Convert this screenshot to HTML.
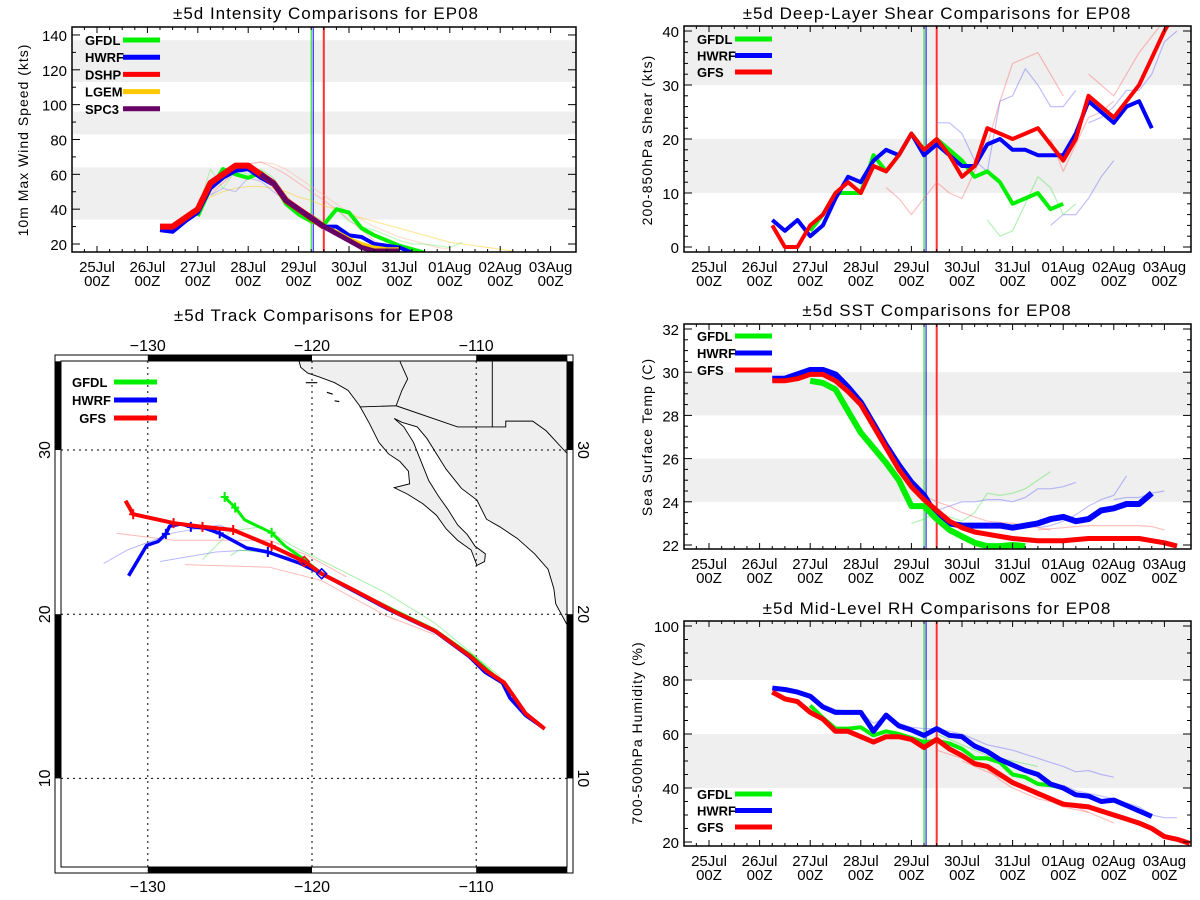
<!DOCTYPE html>
<html><head><meta charset="utf-8"><style>
html,body{margin:0;padding:0;background:#fff;}
svg{display:block;font-family:"Liberation Sans",sans-serif;}
</style></head><body>
<svg id="root" width="1200" height="900" viewBox="0 0 1200 900" xmlns="http://www.w3.org/2000/svg"></svg>
<script>
// ---------- shared data ----------
const dayLabels = ['25Jul','26Jul','27Jul','28Jul','29Jul','30Jul','31Jul','01Aug','02Aug','03Aug'];
const markTimes = [4.25, 4.29, 4.5];   // green, blue, red reference lines (days since 25Jul 00Z)
const markColors = ['#00e000','#0000ff','#ff3030'];

// ---------- intensity ----------
const intTicks = [20,40,60,80,100,120,140];
const intBands = [[34,64],[83,96],[113,137]];
const intDshpStart = 1.25;
const intDshp = [30,30,35,40,55,60,65,65,60,55,45,40,35,30];
const intSpc3Start = 3.25;
const intSpc3 = [60,55,45,40,35,30,26,22,18,16,16,16];
const intLgemStart = 4.25;
const intLgem = [34,30,27,23,20,18,17,17];
const intHwrfStart = 1.25;
const intHwrf = [28,27,33,38,52,58,62,63,58,54,45,40,35,30,30,25,24,20,19,18,15];
const intGfdlStart = 2.0;
const intGfdl = [36,52,63,60,58,61,55,43,37,33,31,40,38,29,25,22,19,17,15];
const intFaintOrange1Start = 2.0;
const intFaintOrange1 = [45,50,55,62,66,67,66,63,58,53,48,43,38,34,30,27,24,22,20,18,17];
const intFaintOrange2Start = 2.0;
const intFaintOrange2 = [42,47,50,52,53,53,52,50,47,45,42,40,37,35,33,31,29,27,25,23,21,20,19,18,17,16];
const intFaintRedStart = 2.25;
const intFaintRed = [48,55,62,66,67,64,60,55,50,45,40,34,28,22,18,16];
const intFaintBlueStart = 2.25;
const intFaintBlue = [48,52,50,58,56,50,45,40,33,28,26,22,20,18];
const intFaintGreenStart = 2.0;
const intFaintGreen = [40,63,52,62,60,63,58,48,40,37,33,40,33,30,28,25,22,20,20,19,18,21];

// ---------- shear ----------
const shrTicks = [0,10,20,30,40];
const shrBands = [[10,20],[30,41]];
const shrGfsStart = 1.25;
const shrGfs = [4,0,0,4,6,10,12,10,15,14,17,21,18,20,17,13,15,22,21,20,21,22,19,16,20,28,26,24,27,30,35,40,44];
const shrHwrfStart = 1.25;
const shrHwrf = [5,3,5,2,4,9,13,12,16,18,17,21,17,19,17,15,15,19,20,18,18,17,17,17,21,27,25,23,26,27,22];
const shrGfdlStart = 2.0;
const shrGfdl = [3,6,10,10,10,17,14,17,21,18,20,18,16,13,14,12,8,9,10,7,8];
const shrFaintRed1Start = 3.5;
const shrFaintRed1 = [11,9,6,9,12,10,9,14,19,27,34,35,36,32,28];
const shrFaintRed2Start = 6.75;
const shrFaintRed2 = [20,14,19,24,25,27];
const shrFaintRed3Start = 7.5;
const shrFaintRed3 = [32,30,28,32,36,39,42];
const shrFaintBlue1Start = 4.5;
const shrFaintBlue1 = [23,23,21,16,14,27,28,33,30,26,26,29];
const shrFaintBlue2Start = 6.75;
const shrFaintBlue2 = [4,6,6,9,13,16];
const shrFaintBlue3Start = 7.5;
const shrFaintBlue3 = [23,24,26,29,29,32,38,40];
const shrFaintGreenStart = 5.5;
const shrFaintGreen = [5,2,3,8,13,11,6,8];

// ---------- SST ----------
const sstTicks = [22,24,26,28,30,32];
const sstBands = [[24,26],[28,30]];
const sstHwrfStart = 1.25;
const sstHwrf = [29.7,29.7,29.9,30.1,30.1,29.9,29.3,28.6,27.6,26.6,25.7,24.9,24.3,23.3,23.0,22.9,22.9,22.9,22.9,22.8,22.9,23.0,23.2,23.3,23.1,23.2,23.6,23.7,23.9,23.9,24.4];
const sstGfsStart = 1.25;
const sstGfs = [29.6,29.6,29.7,29.9,29.9,29.6,29.1,28.5,27.5,26.5,25.5,24.7,24.1,23.6,23.1,22.8,22.6,22.5,22.4,22.3,22.25,22.2,22.2,22.2,22.25,22.3,22.3,22.3,22.3,22.3,22.2,22.1,21.95];
const sstGfdlStart = 2.0;
const sstGfdl = [29.6,29.5,29.2,28.2,27.2,26.5,25.8,25.0,23.8,23.8,23.2,22.7,22.4,22.1,21.95,21.95,22.0,21.95];
const sstFaintBlue1Start = 4.5;
const sstFaintBlue1 = [23.6,23.8,24.0,24.0,24.1,24.1,24.0,24.2,24.6,24.6,24.7,24.9];
const sstFaintBlue2Start = 6.5;
const sstFaintBlue2 = [22.8,22.9,23.1,23.4,23.8,24.1,24.3,25.2];
const sstFaintBlue3Start = 8.0;
const sstFaintBlue3 = [24.1,24.2,24.2,24.4,24.5];
const sstFaintGreenStart = 4.0;
const sstFaintGreen = [23.0,23.2,23.5,23.3,23.1,23.5,24.4,24.3,24.4,24.6,25.0,25.4];
const sstFaintRed1Start = 4.25;
const sstFaintRed1 = [24.3,24.0,23.8,23.5,23.3,23.1,23.05,23.0,22.9,22.8,22.7];
const sstFaintRed2Start = 6.5;
const sstFaintRed2 = [22.7,22.75,22.8,22.85,22.9,22.9,22.9,22.9,22.9,22.85,22.7];

// ---------- RH ----------
const rhTicks = [20,40,60,80,100];
const rhBands = [[40,60],[80,102]];
const rhHwrfStart = 1.25;
const rhHwrf = [77,76.5,75.5,74,70,68,68,68,61,67,63,61.5,59.5,62,59.5,59,55.5,53.5,50.5,48.5,46.5,45,41.5,40,37.5,37,35,35.5,33.5,31.5,29.5];
const rhGfsStart = 1.25;
const rhGfs = [75.5,73,72,68,65.5,61,61,59,57,59,59,58,55,58,54.5,52,49,48,45,42,40,38,36,34,33.5,33,31.5,30,28.5,27,25,22,21,19.5];
const rhGfdlStart = 2.0;
const rhGfdl = [70.5,66,62,62,62.5,59.5,61,60,58.5,57,57.5,56.5,54.5,51,51,49.5,45,44,41.5,41,40];
const rhFaintBlue1Start = 2.0;
const rhFaintBlue1 = [74,71,69,68.5,68,64,66,64,62.5,62,62,61,60,58,56,55,54,52.5,51,49.5,48,46,46.5,45,44];
const rhFaintBlue2Start = 7.0;
const rhFaintBlue2 = [41,39,38,37,36,34.5,33,30,29,29];
const rhFaintGreenStart = 4.5;
const rhFaintGreen = [60,58,56,54,52,51,50,49,48];
const rhFaintRed1Start = 4.5;
const rhFaintRed1 = [54,52.5,51,49,47,43,40,38,36,35,33,32,31,29,27];
const rhFaintRed2Start = 5.0;
const rhFaintRed2 = [50,48,46,44,42,39.5,37,36,35,33,31];

// ---------- track (lon, lat) ----------
const trkGfsLon = [-131.36,-130.89,-128.43,-126.67,-124.80,-122.46,-120.47,-119.41,-117.42,-115.08,-112.51,-110.40,-109.34,-108.29,-107.00,-105.83];
const trkGfsLat = [26.91,26.09,25.55,25.32,25.13,24.15,23.21,22.46,21.45,20.21,18.99,17.47,16.53,15.83,13.96,13.02];
const trkGfsMarks = [1,2,3,4,5];
const trkHwrfLon = [-131.17,-130.07,-129.37,-128.90,-128.67,-127.96,-127.38,-126.56,-125.62,-123.98,-122.69,-120.70,-119.41,-115.32,-112.51,-110.40,-109.46,-108.41,-107.94,-107.00,-105.83];
const trkHwrfLat = [22.34,24.19,24.43,24.89,25.36,25.50,25.32,25.25,24.92,24.03,23.79,23.09,22.46,20.28,18.95,17.40,16.46,15.83,14.89,13.84,13.02];
const trkHwrfMarks = [3,6,8,10];
const trkGfdlLon = [-125.32,-124.68,-124.10,-122.46,-121.64,-120.47,-119.41,-115.08,-112.51,-110.28,-108.52];
const trkGfdlLat = [27.14,26.49,25.74,24.96,24.15,23.33,22.46,20.28,19.04,17.47,15.95];
const trkGfdlMarks = [0,1,3];
const trkFaint = [
  {c:'#ff6060', lon:[-131.90,-128.43,-122.58,-120.23,-117.89], lat:[24.92,24.50,24.50,23.56,22.27]},
  {c:'#ff6060', lon:[-127.73,-122.58,-119.41,-115.55,-112.51], lat:[23.02,22.86,22.04,19.93,18.76]},
  {c:'#6060ff', lon:[-132.69,-131.24,-128.43,-125.62,-122.58], lat:[23.09,23.91,24.96,25.43,24.15]},
  {c:'#6060ff', lon:[-129.25,-125.85,-123.75,-121.17], lat:[23.21,23.79,23.91,23.44]},
  {c:'#40e040', lon:[-126.67,-124.92,-123.04,-121.17,-119.06,-115.55,-112.51,-108.52], lat:[23.33,25.08,25.32,24.15,23.09,21.33,19.46,16.18]},
  {c:'#40e040', lon:[-124.96,-124.45,-122.11,-120.23], lat:[23.56,23.91,23.68,22.97]}
];
const mapLonTicks = [-130,-120,-110];
const mapLatTicks = [30,20,10];

// ---------- helpers ----------
const NS = 'http://www.w3.org/2000/svg';
const root = document.getElementById('root');
function mk(tag, attrs, parent){
  const e = document.createElementNS(NS, tag);
  for (const k in attrs) e.setAttribute(k, attrs[k]);
  (parent||root).appendChild(e);
  return e;
}
function txt(s, x, y, size, anchor, parent, extra){
  const t = mk('text', Object.assign({x:x, y:y, 'font-size':size, 'text-anchor':anchor||'middle', fill:'#000'}, extra||{}), parent);
  t.textContent = s;
  return t;
}

function timeChart(cfg){
  const g = mk('g', {});
  
  
  const X = d => cfg.x0 + d*cfg.dpx;
  const Y = v => cfg.yAt0 - (v - cfg.v0)*cfg.ypu;
  const L=cfg.left, R=cfg.right, T=cfg.top, B=cfg.bottom;
  const clipId = cfg.name + '-clip';
  const cp = mk('clipPath', {id:clipId}, g);
  mk('rect', {x:L, y:T, width:R-L, height:B-T}, cp);
  cfg.bands.forEach(b => {
    const r = mk('rect', {x:L, y:Y(Math.min(b[1], cfg.vmax)), width:R-L, height:Y(b[0])-Y(Math.min(b[1], cfg.vmax)), fill:'#efefef'}, g);
    
    
  });
  const plot = mk('g', {'clip-path':'url(#'+clipId+')'}, g);
  markTimes.forEach((m,i) => {
    const w = i===2 ? 2 : 1;
    const l = mk('line', {x1:X(m), x2:X(m), y1:T, y2:B, stroke:markColors[i], 'stroke-width':w}, plot);
    
    
  });
  cfg.faint.forEach(s => drawSeries(plot, s.start, s.vals, s.c, 1.2, 0.4, X, Y, 'faint-series'));
  cfg.series.forEach(s => drawSeries(plot, s.start, s.vals, s.c, s.w, 1, X, Y, s.n));
  mk('rect', {x:L, y:T, width:R-L, height:B-T, fill:'none', stroke:'#000', 'stroke-width':1.5}, g);
  for (let q=-1; q<=36; q++){
    const d = q/4;
    const x = X(d);
    if (x<L || x>R) continue;
    const major = q%4===0;
    const len = major?6:3;
    mk('line', {x1:x,x2:x,y1:B,y2:B-len,stroke:'#000'}, g);
    mk('line', {x1:x,x2:x,y1:T,y2:T+len,stroke:'#000'}, g);
  }
  dayLabels.forEach((lab,i) => {
    const a = txt(lab, X(i), B+20, 15, 'middle', g);
    
    
    txt('00Z', X(i), B+34, 15, 'middle', g);
  });
  for (let v = cfg.ticks[0]; v <= cfg.vmax; v += cfg.minor){
    const y = Y(v);
    if (y<T || y>B) continue;
    const major = cfg.ticks.some(t => Math.abs(t-v)<1e-6);
    const len = major?8:4;
    mk('line', {x1:L,x2:L+len,y1:y,y2:y,stroke:'#000'}, g);
    mk('line', {x1:R,x2:R-len,y1:y,y2:y,stroke:'#000'}, g);
  }
  cfg.ticks.forEach(v => {
    const t = txt(String(v), L-5, Y(v)+6, 15, 'end', g);
    
    
  });
  const tt = txt(cfg.title, cfg.titleX, cfg.titleY, 17, 'middle', g, {'letter-spacing':'1'});
  
  
  const yt = txt(cfg.ytitle, 0, 0, 14, 'middle', g, {transform:'translate('+cfg.ytX+','+cfg.ytY+') rotate(-90)', 'letter-spacing':'1'});
  
  
  cfg.legend.forEach((it,i) => {
    const y = cfg.legY + i*cfg.legDy;
    const lt = txt(it.n, cfg.legTextX, y+5, 13, cfg.legAnchor[i]||'start', g, {'font-weight':'bold'});
    
    
    const ll = mk('line', {x1:cfg.legLineX, x2:cfg.legLineX+37, y1:y, y2:y, stroke:it.c, 'stroke-width':5}, g);
    
    
  });
}
function drawSeries(parent, start, vals, color, w, op, X, Y, name){
  const pts = vals.map((v,i) => X(start + i*0.25).toFixed(1)+','+Y(v).toFixed(1)).join(' ');
  const p = mk('polyline', {points:pts, fill:'none', stroke:color, 'stroke-width':w, 'stroke-opacity':op, 'stroke-linejoin':'round'}, parent);
  
  
}

const G='#00f000', B='#0000ff', Rd='#ff0000', O='#ffc800', P='#660066';

timeChart({name:'intensity-chart', left:72, right:576, top:27, bottom:252, x0:97, dpx:50.4,
  v0:20, yAt0:244, ypu:1.742, vmax:144, ticks:intTicks, minor:10, bands:intBands,
  title:'\u00b15d Intensity Comparisons for EP08', titleX:326, titleY:19,
  ytitle:'10m Max Wind Speed (kts)', ytX:28, ytY:140,
  faint:[{start:intFaintOrange1Start, vals:intFaintOrange1, c:'#ffb090'},{start:intFaintOrange2Start, vals:intFaintOrange2, c:O},
         {start:intFaintRedStart, vals:intFaintRed, c:'#ff8080'},{start:intFaintBlueStart, vals:intFaintBlue, c:'#8080ff'},
         {start:intFaintGreenStart, vals:intFaintGreen, c:'#60f060'}],
  series:[{start:intGfdlStart, vals:intGfdl, c:G, w:4, n:'gfdl-intensity'},
          {start:intHwrfStart, vals:intHwrf, c:B, w:4, n:'hwrf-intensity'},
          {start:intLgemStart, vals:intLgem, c:O, w:4, n:'lgem-intensity'},
          {start:intDshpStart, vals:intDshp, c:Rd, w:6, n:'dshp-intensity'},
          {start:intSpc3Start, vals:intSpc3, c:P, w:5, n:'spc3-intensity'}],
  legend:[{n:'GFDL',c:G},{n:'HWRF',c:B},{n:'DSHP',c:Rd},{n:'LGEM',c:O},{n:'SPC3',c:P}],
  legY:40, legDy:17.2, legTextX:85, legLineX:123, legAnchor:[]});

timeChart({name:'shear-chart', left:684, right:1191, top:26, bottom:252, x0:709, dpx:50.6,
  v0:0, yAt0:247, ypu:5.4, vmax:40.9, ticks:shrTicks, minor:2, bands:shrBands,
  title:'\u00b15d Deep-Layer Shear Comparisons for EP08', titleX:937, titleY:19,
  ytitle:'200-850hPa Shear (kts)', ytX:652, ytY:140,
  faint:[{start:shrFaintRed1Start, vals:shrFaintRed1, c:'#ff6060'},{start:shrFaintRed2Start, vals:shrFaintRed2, c:'#ff6060'},{start:shrFaintRed3Start, vals:shrFaintRed3, c:'#ff6060'},
         {start:shrFaintBlue1Start, vals:shrFaintBlue1, c:'#6060ff'},{start:shrFaintBlue2Start, vals:shrFaintBlue2, c:'#6060ff'},{start:shrFaintBlue3Start, vals:shrFaintBlue3, c:'#6060ff'},
         {start:shrFaintGreenStart, vals:shrFaintGreen, c:'#40e040'}],
  series:[{start:shrGfdlStart, vals:shrGfdl, c:G, w:4, n:'gfdl-shear'},
          {start:shrHwrfStart, vals:shrHwrf, c:B, w:4, n:'hwrf-shear'},
          {start:shrGfsStart, vals:shrGfs, c:Rd, w:4, n:'gfs-shear'}],
  legend:[{n:'GFDL',c:G},{n:'HWRF',c:B},{n:'GFS',c:Rd}],
  legY:39, legDy:16.5, legTextX:697, legLineX:735, legAnchor:['start','start','start']});

timeChart({name:'sst-chart', left:684, right:1191, top:324, bottom:549, x0:709, dpx:50.6,
  v0:22, yAt0:545, ypu:21.6, vmax:32.2, ticks:sstTicks, minor:0.5, bands:sstBands,
  title:'\u00b15d SST Comparisons for EP08', titleX:937, titleY:316,
  ytitle:'Sea Surface Temp (C)', ytX:652, ytY:437,
  faint:[{start:sstFaintBlue1Start, vals:sstFaintBlue1, c:'#6060ff'},{start:sstFaintBlue2Start, vals:sstFaintBlue2, c:'#6060ff'},{start:sstFaintBlue3Start, vals:sstFaintBlue3, c:'#6060ff'},
         {start:sstFaintGreenStart, vals:sstFaintGreen, c:'#40e040'},{start:sstFaintRed1Start, vals:sstFaintRed1, c:'#ff6060'},{start:sstFaintRed2Start, vals:sstFaintRed2, c:'#ff6060'}],
  series:[{start:sstHwrfStart, vals:sstHwrf, c:B, w:6, n:'hwrf-sst'},
          {start:sstGfdlStart, vals:sstGfdl, c:G, w:6, n:'gfdl-sst'},
          {start:sstGfsStart, vals:sstGfs, c:Rd, w:5, n:'gfs-sst'}],
  legend:[{n:'GFDL',c:G},{n:'HWRF',c:B},{n:'GFS',c:Rd}],
  legY:336, legDy:17, legTextX:697, legLineX:735, legAnchor:['start','start','start']});

timeChart({name:'rh-chart', left:684, right:1191, top:621, bottom:846, x0:709, dpx:50.6,
  v0:20, yAt0:842, ypu:2.7, vmax:101.8, ticks:rhTicks, minor:5, bands:rhBands,
  title:'\u00b15d Mid-Level RH Comparisons for EP08', titleX:937, titleY:614,
  ytitle:'700-500hPa Humidity (%)', ytX:642, ytY:733,
  faint:[{start:rhFaintBlue1Start, vals:rhFaintBlue1, c:'#6060ff'},{start:rhFaintBlue2Start, vals:rhFaintBlue2, c:'#6060ff'},
         {start:rhFaintGreenStart, vals:rhFaintGreen, c:'#40e040'},{start:rhFaintRed1Start, vals:rhFaintRed1, c:'#ff6060'},{start:rhFaintRed2Start, vals:rhFaintRed2, c:'#ff6060'}],
  series:[{start:rhGfdlStart, vals:rhGfdl, c:G, w:4, n:'gfdl-rh'},
          {start:rhHwrfStart, vals:rhHwrf, c:B, w:5, n:'hwrf-rh'},
          {start:rhGfsStart, vals:rhGfs, c:Rd, w:5, n:'gfs-rh'}],
  legend:[{n:'GFDL',c:G},{n:'HWRF',c:B},{n:'GFS',c:Rd}],
  legY:794, legDy:16.5, legTextX:697, legLineX:735, legAnchor:['start','start','start']});

// ---------- track map ----------
(function(){
  const g = mk('g', {});
  
  
  const LX = lon => 312 + (lon + 120)*16.42;
  const LY = lat => 450 - (lat - 30)*16.42;
  const L=61, R=567, T=361, Bm=867;
  const t = txt('\u00b15d Track Comparisons for EP08', 314, 321, 17, 'middle', g, {'letter-spacing':'1'});
  
  
  mk('rect', {x:55, y:355, width:518, height:518, fill:'#fff', stroke:'#000', 'stroke-width':1}, g);
  const cp = mk('clipPath', {id:'map-clip'}, g);
  mk('rect', {x:L, y:T, width:R-L, height:Bm-T}, cp);
  const inner = mk('g', {'clip-path':'url(#map-clip)'}, g);
  const land = mk('g', {transform:'translate(0,300) scale(0.3846)'}, inner);
  const lp = mk('path', {d:'M775,150 L782,175 800,190 830,200 870,215 905,235 935,275 960,320 985,370 1010,400 1040,420 1062,445 1065,478 1025,488 1060,505 1100,530 1135,560 1160,595 1190,625 1225,650 1240,690 1260,680 1262,660 1235,640 1215,610 1190,585 1165,545 1140,510 1115,470 1095,420 1075,370 1050,330 1025,308 1045,318 1085,330 1110,360 1135,400 1160,440 1200,490 1240,520 1265,570 1300,590 1345,620 1390,660 1425,700 1440,750 1445,790 1480,855 L1480,150 Z', fill:'#efefef', stroke:'#000', 'stroke-width':2.4}, land);
  
  
  mk('path', {d:'M935,278 L1030,275 1190,330 1280,330 1315,330 1315,315 1385,315 1420,340 1480,405 M1280,150 L1280,330 M1030,275 L1045,235 1060,205 1040,160', fill:'none', stroke:'#000', 'stroke-width':2.4}, land);
  mk('path', {d:'M795,215 l30,0 M850,240 l15,5 M870,262 l12,2', stroke:'#000', 'stroke-width':3}, land);
  mapLonTicks.forEach(lon => mk('line', {x1:LX(lon), x2:LX(lon), y1:T, y2:Bm, stroke:'#000', 'stroke-dasharray':'2,4', 'stroke-width':1}, inner));
  mapLatTicks.forEach(lat => mk('line', {x1:L, x2:R, y1:LY(lat), y2:LY(lat), stroke:'#000', 'stroke-dasharray':'2,4', 'stroke-width':1}, inner));
  trkFaint.forEach(f => {
    const p = mk('polyline', {points:f.lon.map((lo,i)=>LX(lo).toFixed(1)+','+LY(f.lat[i]).toFixed(1)).join(' '), fill:'none', stroke:f.c, 'stroke-width':1, 'stroke-opacity':0.45}, inner);
    
    
  });
  function track(lons, lats, marks, c, w, name){
    const p = mk('polyline', {points:lons.map((lo,i)=>LX(lo).toFixed(1)+','+LY(lats[i]).toFixed(1)).join(' '), fill:'none', stroke:c, 'stroke-width':w, 'stroke-linejoin':'round'}, inner);
    
    
    marks.forEach(i => {
      const x = LX(lons[i]), y = LY(lats[i]);
      mk('path', {d:'M'+(x-4)+','+y+' h8 M'+x+','+(y-5)+' v10', stroke:c, 'stroke-width':2}, inner);
    });
  }
  track(trkGfdlLon, trkGfdlLat, trkGfdlMarks, G, 3, 'gfdl-track');
  track(trkHwrfLon, trkHwrfLat, trkHwrfMarks, B, 3.5, 'hwrf-track');
  track(trkGfsLon, trkGfsLat, trkGfsMarks, Rd, 4, 'gfs-track');
  const dx = LX(trkHwrfLon[12]), dy = LY(trkHwrfLat[12]);
  mk('path', {d:'M'+dx+','+(dy-5)+' l5,5 -5,5 -5,-5 z', fill:'none', stroke:B, 'stroke-width':1.5}, inner);
  const rx = LX(trkGfsLon[6]), ry = LY(trkGfsLat[6]);
  mk('path', {d:'M'+rx+','+(ry-5)+' l5,5 -5,5 -5,-5 z', fill:'none', stroke:Rd, 'stroke-width':1.5}, inner);
  mk('rect', {x:L, y:T, width:R-L, height:Bm-T, fill:'none', stroke:'#000', 'stroke-width':1}, g);
  const bw = 6;
  const lonEdges = [-135.3, -130, -120, -110, -104.45];
  for (let i=0;i<lonEdges.length-1;i++){
    if (i%2===1){
      mk('rect', {x:LX(lonEdges[i]), y:355, width:LX(lonEdges[i+1])-LX(lonEdges[i]), height:bw, fill:'#000'}, g);
      mk('rect', {x:LX(lonEdges[i]), y:Bm, width:LX(lonEdges[i+1])-LX(lonEdges[i]), height:bw, fill:'#000'}, g);
    }
  }
  const latEdges = [35.4, 30, 20, 10, 4.6];
  for (let i=0;i<latEdges.length-1;i++){
    if (i%2===0){
      mk('rect', {x:55, y:LY(latEdges[i]), width:bw, height:LY(latEdges[i+1])-LY(latEdges[i]), fill:'#000'}, g);
      mk('rect', {x:R, y:LY(latEdges[i]), width:bw, height:LY(latEdges[i+1])-LY(latEdges[i]), fill:'#000'}, g);
    }
  }
  mapLonTicks.forEach(lon => {
    const a = txt('\u2212'+Math.abs(lon), LX(lon), 351, 16, 'middle', g);
    
    
    txt('\u2212'+Math.abs(lon), LX(lon), 892, 16, 'middle', g);
  });
  mapLatTicks.forEach(lat => {
    const a = txt(String(lat), 0, 0, 16, 'middle', g, {transform:'translate(50,'+LY(lat)+') rotate(-90)'});
    
    
    txt(String(lat), 0, 0, 16, 'middle', g, {transform:'translate(578,'+LY(lat)+') rotate(90)'});
  });
  const leg = [{n:'GFDL',c:G,a:'start',x:72},{n:'HWRF',c:B,a:'start',x:72},{n:'GFS',c:Rd,a:'end',x:106}];
  leg.forEach((it,i) => {
    const y = 382 + i*18;
    const lt = txt(it.n, it.x, y+5, 13, it.a, g, {'font-weight':'bold'});
    
    
    mk('line', {x1:114, x2:157, y1:y, y2:y, stroke:it.c, 'stroke-width':5}, g);
  });
})();
</script>
</body></html>
